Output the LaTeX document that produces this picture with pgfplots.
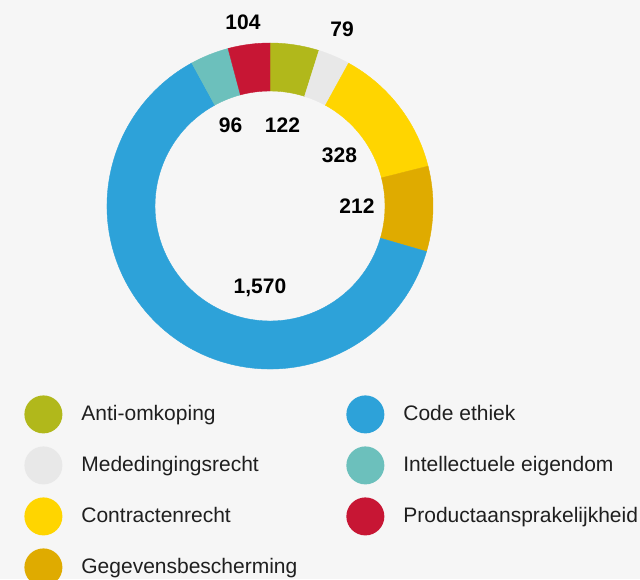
\documentclass[border=0pt]{standalone}
\usepackage{fontspec}
\setmainfont{Liberation Sans}
\usepackage{pgfplots}
\pgfplotsset{compat=1.18}
\definecolor{bg}{HTML}{F6F6F6}
\definecolor{cAnti}{HTML}{B1B81B}
\definecolor{cMed}{HTML}{E8E8E8}
\definecolor{cCon}{HTML}{FFD500}
\definecolor{cGeg}{HTML}{DFAB00}
\definecolor{cCode}{HTML}{2DA2D9}
\definecolor{cIE}{HTML}{6CC0BC}
\definecolor{cProd}{HTML}{C71634}
\newcommand{\lblfont}{\bfseries\fontsize{10.5}{12}\selectfont}
\begin{document}
\begin{tikzpicture}
\begin{axis}[
    x=0.5pt, y=0.5pt,
    xmin=0, xmax=640, ymin=0, ymax=579,
    hide axis, clip=false,
    legend cell align=left,
    legend columns=4, transpose legend,
    legend style={draw=none, fill=none, at={(axis cs:24,184)}, anchor=north west,
        inner sep=0pt, row sep=6.5pt, column sep=0pt,
        font=\fontsize{10.5}{12}\selectfont, text=black!88,
        nodes={inner sep=0pt},
        /tikz/every even column/.append style={column sep=24.5pt}},
    legend image code/.code={\fill[#1, draw=none] (9.5pt,0pt) circle[radius=9.5pt];
        \path[draw=none, fill=none] (0pt,0pt) -- (28.5pt,0pt);},
]
\fill[bg] (axis cs:0,0) rectangle (axis cs:640,579);
\coordinate (ll) at (axis cs:0,0);
\coordinate (ur) at (axis cs:640,579);

% donut: values clockwise from the top
\xdef\acc{0}
\foreach \v/\col in {122/cAnti, 79/cMed, 328/cCon, 212/cGeg, 1570/cCode, 96/cIE, 104/cProd}{
    \pgfmathsetmacro\aone{90-\acc/2511*360}
    \pgfmathsetmacro\nacc{\acc+\v}
    \pgfmathsetmacro\atwo{90-\nacc/2511*360}
    \xdef\acc{\nacc}
    \edef\cmd{\noexpand\filldraw[fill=\col, draw=\col, line width=0.2pt]
        ([shift={(\aone:81.5pt)}]axis cs:270,373)
        arc[start angle=\aone, end angle=\atwo, radius=81.5pt]
        -- ([shift={(\atwo:57.5pt)}]axis cs:270,373)
        arc[start angle=\atwo, end angle=\aone, radius=57.5pt] -- cycle;}
    \cmd
}

\node[font=\lblfont, anchor=base, inner sep=0pt] at (axis cs:243,549) {104};
\node[font=\lblfont, anchor=base, inner sep=0pt] at (axis cs:342,542) {79};
\node[font=\lblfont, anchor=base, inner sep=0pt] at (axis cs:230.5,446) {96};
\node[font=\lblfont, anchor=base, inner sep=0pt] at (axis cs:282.5,446) {122};
\node[font=\lblfont, anchor=base, inner sep=0pt] at (axis cs:339.5,416) {328};
\node[font=\lblfont, anchor=base, inner sep=0pt] at (axis cs:357,366) {212};
\node[font=\lblfont, anchor=base, inner sep=0pt] at (axis cs:260,286) {1,570};

\addlegendimage{cAnti}\addlegendentry{Anti-omkoping}
\addlegendimage{cMed}\addlegendentry{Mededingingsrecht}
\addlegendimage{cCon}\addlegendentry{Contractenrecht}
\addlegendimage{cGeg}\addlegendentry{Gegevensbescherming}
\addlegendimage{cCode}\addlegendentry{Code ethiek}
\addlegendimage{cIE}\addlegendentry{Intellectuele eigendom}
\addlegendimage{cProd}\addlegendentry{Productaansprakelijkheid}
\end{axis}
\pgfresetboundingbox
\useasboundingbox (ll) rectangle (ur);
\end{tikzpicture}
\end{document}
